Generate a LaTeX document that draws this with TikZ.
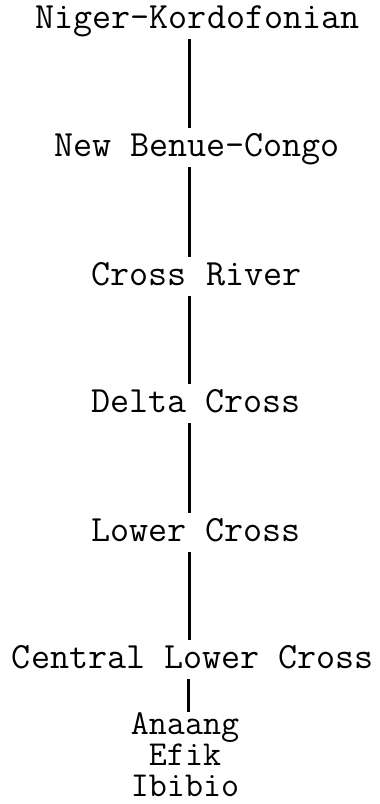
\documentclass[tikz,border=0pt]{standalone}
\usepackage{tikz}
\usetikzlibrary{positioning}
\tikzset{
  lang node/.style={font=\fontsize{37}{44}\selectfont\ttfamily, anchor=base, inner xsep=0pt, inner ysep=8pt, text height=20pt, text depth=3pt},
  lang list/.style={font=\fontsize{35}{31}\selectfont\ttfamily, align=center, anchor=north, inner sep=0pt},
  branch/.style={line width=2.2pt, black},
}

\begin{document}
\begin{tikzpicture}[x=1pt, y=-1pt]
  \useasboundingbox (0,0) rectangle (380,804);

  % Family levels
  \node[lang node] (nk) at (197.5,28) {Niger-Kordofonian};
  \node[lang node] (nbc) at (197,156) {New Benue-Congo};
  \node[lang node] (cr) at (196.5,285) {Cross River};
  \node[lang node] (dc) at (196,412) {Delta Cross};
  \node[lang node] (lc) at (196,541) {Lower Cross};
  \node[lang node] (clc) at (193,668) {Central Lower Cross};

  % Languages
  \node[lang list] (langs) at (185,712) {Anaang\\Efik\\Ibibio};

  \coordinate (trunk) at (189.5,0);

  % Branches
  \draw[branch] (nk.south -| trunk) -- (nbc.north -| trunk);
  \draw[branch] (nbc.south -| trunk) -- (cr.north -| trunk);
  \draw[branch] (cr.south -| trunk) -- (dc.north -| trunk);
  \draw[branch] (dc.south -| trunk) -- (lc.north -| trunk);
  \draw[branch] (lc.south -| trunk) -- (clc.north -| trunk);
  \draw[branch] ([xshift=-1pt]clc.south -| trunk) -- ([xshift=-1pt]langs.north -| trunk);
\end{tikzpicture}
\end{document}
